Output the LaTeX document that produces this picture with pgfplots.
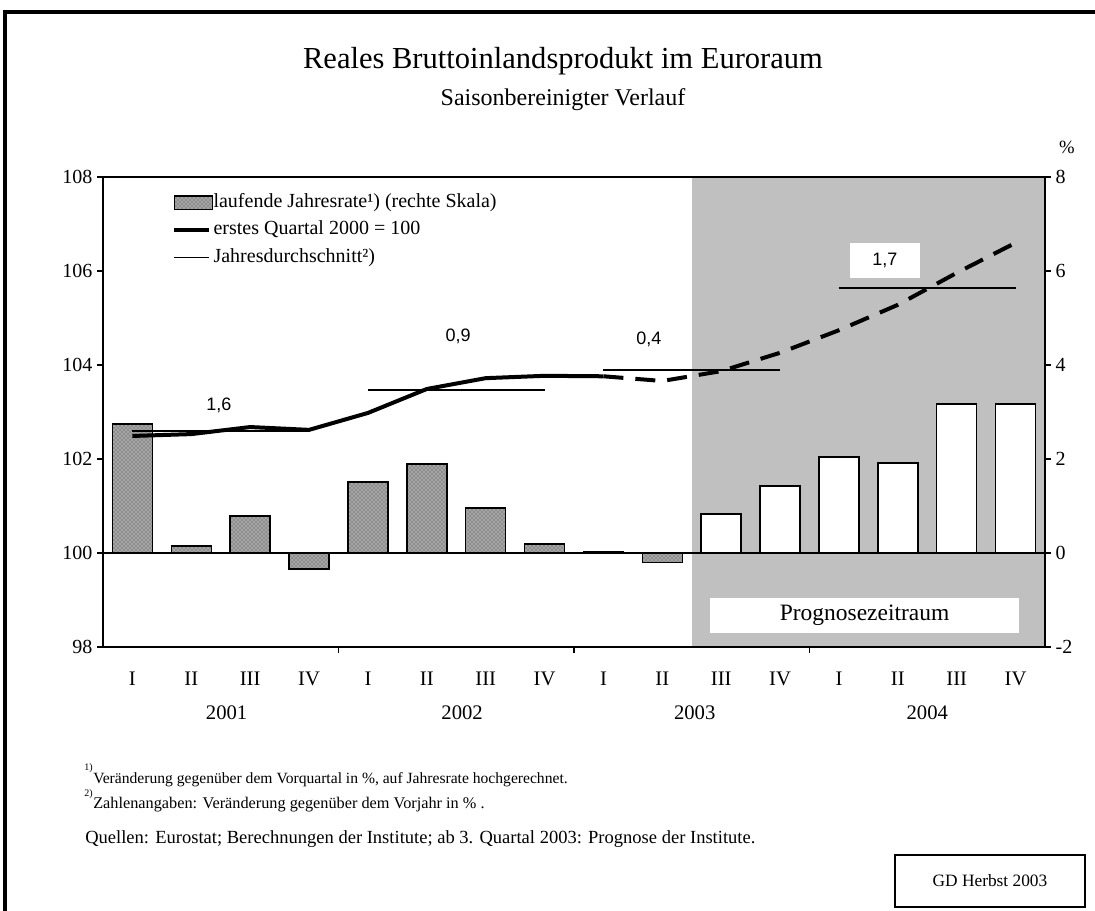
\documentclass[border=0pt]{standalone}
\usepackage{fontspec}
\setmainfont{Liberation Serif}
\newfontfamily\arial{Liberation Sans}
\usepackage{pgfplots}
\usepackage{pgfplotstable}
\usetikzlibrary{patterns}
\pgfplotsset{compat=1.18}
\definecolor{prog}{RGB}{192,192,192}
\definecolor{barfill}{RGB}{165,165,165}

\pgfplotstableread{
x y
0 2.74
1 0.15
2 0.79
3 -0.34
4 1.51
5 1.89
6 0.96
7 0.19
8 0.03
9 -0.20
}\histbars

\pgfplotstableread{
x y
10 0.83
11 1.43
12 2.04
13 1.92
14 3.17
15 3.17
}\progbars

\pgfplotstableread{
x y
0 102.49
1 102.53
2 102.68
3 102.62
4 102.98
5 103.49
6 103.72
7 103.77
8 103.76
}\bipsolid

\pgfplotstableread{
x y
8 103.76
9 103.66
10 103.87
11 104.26
12 104.74
13 105.28
14 105.96
15 106.60
}\bipdashed

\tikzset{histbar/.style={fill=barfill, postaction={pattern=crosshatch dots, pattern color=black!75}}}

\begin{document}
\begin{tikzpicture}
\begin{scope}[x=0.75pt,y=-0.75pt]
\path[use as bounding box] (0,0) rectangle (1095,910);
\draw[line width=2.6pt] (5,912) -- (5,12) -- (1097,12);
\node[anchor=base,inner sep=0pt,font=\fontsize{22.9}{26}\selectfont] at (563,68) {Reales Bruttoinlandsprodukt im Euroraum};
\node[anchor=base,inner sep=0pt,font=\fontsize{18}{21}\selectfont] at (563,105) {Saisonbereinigter Verlauf};
\node[anchor=base,inner sep=0pt,font=\fontsize{14}{16}\selectfont] at (1067,153) {\%};
\node[anchor=base west,inner sep=0pt,font=\fontsize{7.5}{9}\selectfont] at (84,770) {1)};
\node[anchor=base west,inner sep=0pt,font=\fontsize{11.7}{13}\selectfont] at (93,783) {Veränderung gegenüber dem Vorquartal in \%, auf Jahresrate hochgerechnet.};
\node[anchor=base west,inner sep=0pt,font=\fontsize{7.5}{9}\selectfont] at (84,796) {2)};
\node[anchor=base west,inner sep=0pt,font=\fontsize{12.2}{14}\selectfont] at (93,808) {Zahlenangaben: Veränderung gegenüber dem Vorjahr in \% .};
\node[anchor=base west,inner sep=0pt,font=\fontsize{13.9}{16}\selectfont] at (85,843) {Quellen: Eurostat; Berechnungen der Institute; ab 3. Quartal 2003: Prognose der Institute.};
\draw[line width=1.3pt] (895,855) rectangle (1085,907);
\node[font=\fontsize{13}{15}\selectfont] at (990,881) {GD Herbst 2003};
\end{scope}

\begin{axis}[
  at={(77.25pt,-485.25pt)}, anchor=south west,
  width=706.5pt, height=352.5pt, scale only axis,
  xmin=-0.5, xmax=15.5, ymin=-2, ymax=8,
  axis on top, clip=false,
  axis line style={line width=1.1pt},
  tick style={line width=0.9pt, black},
  tick align=outside, major tick length=4.5pt,
  ytick pos=right, xtick pos=left,
  ytick={-2,0,2,4,6,8}, yticklabels={-2,0,2,4,6,8},
  yticklabel style={font=\fontsize{15}{17}\selectfont},
  xtick={3.5,7.5,11.5}, xticklabels={},
  extra x ticks={0,1,...,15},
  extra x tick labels={I,II,III,IV,I,II,III,IV,I,II,III,IV,I,II,III,IV},
  extra x tick style={major tick length=0pt, tick label style={font=\fontsize{15.5}{17}\selectfont, yshift=-15pt}},
]
\fill[prog] (axis cs:9.5,-2) rectangle (axis cs:15.5,8);
\fill[white] (axis cs:9.81,-0.957) rectangle (axis cs:15.06,-1.70);
\node[font=\fontsize{17.6}{20}\selectfont] at (axis cs:12.435,-1.33) {Prognosezeitraum};
\draw[line width=0.9pt] (axis cs:-0.5,0) -- (axis cs:15.5,0);
\addplot[ybar, bar width=30pt, bar shift=0pt, histbar, draw=black, line width=1.1pt] table {\histbars};
\addplot[ybar, bar width=30pt, bar shift=0pt, fill=white, draw=black, line width=1.1pt] table {\progbars};
\node[anchor=base, font=\fontsize{15.5}{17}\selectfont] at (axis cs:1.6,-2) [yshift=-54pt] {2001};
\node[anchor=base, font=\fontsize{15.5}{17}\selectfont] at (axis cs:5.6,-2) [yshift=-54pt] {2002};
\node[anchor=base, font=\fontsize{15.5}{17}\selectfont] at (axis cs:9.55,-2) [yshift=-54pt] {2003};
\node[anchor=base, font=\fontsize{15.5}{17}\selectfont] at (axis cs:13.5,-2) [yshift=-54pt] {2004};
\end{axis}

\begin{axis}[
  at={(77.25pt,-485.25pt)}, anchor=south west,
  width=706.5pt, height=352.5pt, scale only axis,
  xmin=-0.5, xmax=15.5, ymin=98, ymax=108,
  axis x line=none, axis y line*=left,
  clip=false,
  axis line style={line width=1.1pt},
  tick style={line width=0.9pt, black},
  tick align=outside, major tick length=4.5pt,
  ytick={98,100,...,108},
  yticklabel style={font=\fontsize{15}{17}\selectfont},
  /pgf/number format/assume math mode=true,
  legend style={draw=none, fill=none, at={(0.0732,0.968)}, anchor=north west,
    inner sep=0pt, row sep=5pt, font=\fontsize{15}{17}\selectfont,
    nodes={inner sep=0.5pt, text height=11pt, text depth=3.5pt}},
  legend cell align=left,
]
\addlegendimage{legend image code/.code={\draw[histbar, draw=black, line width=1pt] (0pt,-4.9pt) rectangle (28.5pt,4.9pt);}}
\addlegendentry{laufende Jahresrate¹) (rechte Skala)}
\addlegendimage{legend image code/.code={\draw[line width=3pt] (0pt,0pt) -- (26pt,0pt);}}
\addlegendentry{erstes Quartal 2000 = 100}
\addlegendimage{legend image code/.code={\draw[line width=1.1pt] (0pt,0pt) -- (26pt,0pt);}}
\addlegendentry{Jahresdurchschnitt²)}

\node[fill=white, minimum width=53pt, minimum height=26pt, inner sep=0pt, font=\arial\fontsize{13.5}{15}\selectfont] at (axis cs:12.78,106.23) {1,7};
\addplot[line width=1.1pt, forget plot] coordinates {(0,102.6) (3,102.6)};
\addplot[line width=1.1pt, forget plot] coordinates {(4,103.47) (7,103.47)};
\addplot[line width=1.1pt, forget plot] coordinates {(8,103.89) (11,103.89)};
\addplot[line width=1.1pt, forget plot] coordinates {(12,105.64) (15,105.64)};
\addplot[line width=3pt, line join=round, forget plot] table {\bipsolid};
\addplot[line width=3pt, dash pattern=on 15pt off 9pt, forget plot] table {\bipdashed};
\node[font=\arial\fontsize{13.5}{15}\selectfont] at (axis cs:1.47,103.15) {1,6};
\node[font=\arial\fontsize{13.5}{15}\selectfont] at (axis cs:5.53,104.6) {0,9};
\node[font=\arial\fontsize{13.5}{15}\selectfont] at (axis cs:8.77,104.55) {0,4};
\end{axis}
\end{tikzpicture}
\end{document}
